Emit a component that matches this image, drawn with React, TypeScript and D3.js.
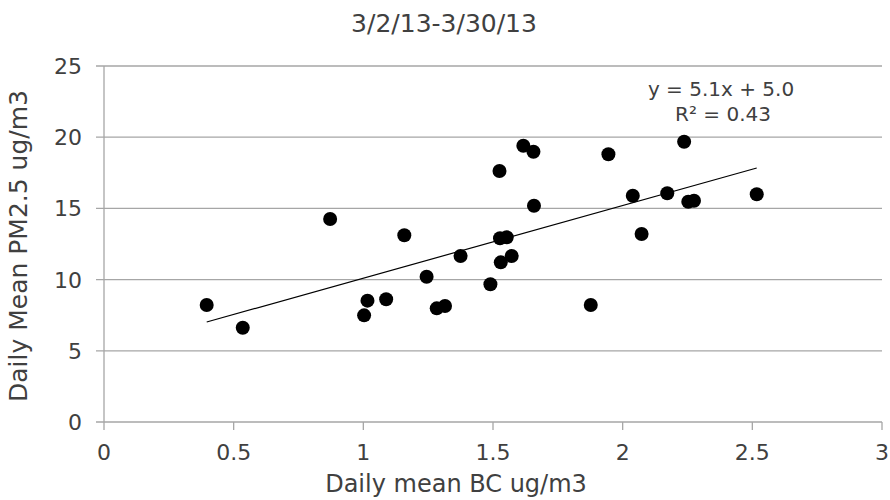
import React from "react";
import * as d3 from "d3";

const titleText = "3/2/13-3/30/13";
const xAxisLabel = "Daily mean BC ug/m3";
const yAxisLabel = "Daily Mean PM2.5 ug/m3";
const xTicks = [0, 0.5, 1, 1.5, 2, 2.5, 3];
const yTicks = [0, 5, 10, 15, 20, 25];

const bcValues = [
  0.396, 0.535, 0.872, 1.003, 1.016, 1.088, 1.158, 1.244, 1.283, 1.315, 1.375, 1.49,
  1.525, 1.617, 1.656, 1.658, 1.527, 1.553, 1.53, 1.572, 1.945, 1.877, 2.039, 2.073,
  2.172, 2.237, 2.253, 2.275, 2.517,
];
const pmValues = [
  8.22, 6.62, 14.26, 7.49, 8.52, 8.62, 13.11, 10.2, 7.98, 8.15, 11.66, 9.67,
  17.63, 19.4, 18.98, 15.19, 12.9, 12.97, 11.21, 11.66, 18.8, 8.22, 15.89, 13.2,
  16.06, 19.68, 15.47, 15.54, 15.99,
];
const trendSlope = 5.1;
const trendIntercept = 5.0;
const equationText = "y = 5.1x + 5.0";
const r2Text = "R² = 0.43";

export default function App() {
  const width = 890;
  const height = 500;
  const left = 104;
  const right = 882;
  const top = 66;
  const bottom = 422;
  const x = d3.scaleLinear().domain([0, 3]).range([left, right]);
  const y = d3.scaleLinear().domain([0, 25]).range([bottom, top]);
  const font = "'DejaVu Sans', sans-serif";
  const textColor = "#404040";
  const gridColor = "#a6a6a6";

  const points = bcValues.map((b, i) => ({ b, p: pmValues[i] }));
  const xMin = d3.min(bcValues) as number;
  const xMax = d3.max(bcValues) as number;
  const line = d3
    .line<number>()
    .x((d) => x(d))
    .y((d) => y(trendSlope * d + trendIntercept));

  return (
    <svg width={width} height={height} style={{ position: "absolute", left: 0, top: 0 }}>
      <rect x={0} y={0} width={width} height={height} fill="#fff" />
      <text x={444} y={32} textAnchor="middle" fontFamily={font} fontSize={25} fill={textColor}>
        {titleText}
      </text>
      {yTicks.map((t) => (
        <g key={"y" + t}>
          <line x1={left - 8} x2={right} y1={y(t)} y2={y(t)} stroke={gridColor} strokeWidth={1.3} />
          <text
            x={82}
            y={y(t)}
            dy="0.36em"
            textAnchor="end"
            fontFamily={font}
            fontSize={22}
            fill={textColor}
          >
            {t}
          </text>
        </g>
      ))}
      <line x1={left} x2={left} y1={top} y2={bottom} stroke={gridColor} strokeWidth={1.3} />
      {xTicks.map((t) => (
        <g key={"x" + t}>
          <line x1={x(t)} x2={x(t)} y1={bottom} y2={bottom + 8} stroke={gridColor} strokeWidth={1.3} />
          <text x={x(t)} y={460} textAnchor="middle" fontFamily={font} fontSize={22} fill={textColor}>
            {t}
          </text>
        </g>
      ))}
      <text x={456} y={492} textAnchor="middle" fontFamily={font} fontSize={24} fill={textColor}>
        {xAxisLabel}
      </text>
      <text
        transform={`translate(27,246) rotate(-90)`}
        textAnchor="middle"
        fontFamily={font}
        fontSize={25}
        fill={textColor}
      >
        {yAxisLabel}
      </text>
      <path d={line([xMin, xMax]) || ""} stroke="#000" strokeWidth={1.2} fill="none" />
      {points.map((d, i) => (
        <circle key={i} cx={x(d.b)} cy={y(d.p)} r={7} fill="#000" />
      ))}
      <text x={721} y={96} textAnchor="middle" fontFamily={font} fontSize={20} fill={textColor}>
        {equationText}
      </text>
      <text x={723} y={121} textAnchor="middle" fontFamily={font} fontSize={20} fill={textColor}>
        {r2Text}
      </text>
    </svg>
  );
}
